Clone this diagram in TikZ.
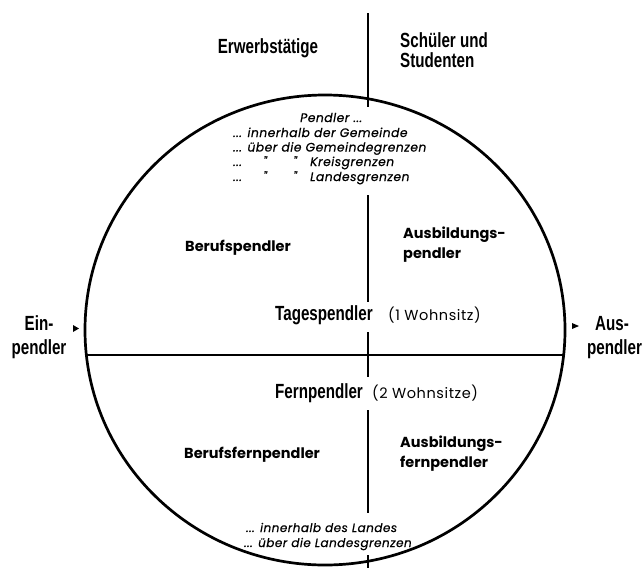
\documentclass[tikz,border=0pt]{standalone}
\usepackage{fontspec}
\setmainfont{Liberation Sans}
\newfontfamily\condf[FakeStretch=0.74]{Liberation Sans}
\newfontfamily\futf{Poppins}
\newfontfamily\futsp[LetterSpace=4,ItalicFeatures={FakeBold=0.5}]{Poppins}
\tikzset{
  cond/.style={font=\condf\bfseries\fontsize{20.5}{22}\selectfont, inner sep=0pt},
  futb/.style={font=\futf\bfseries\fontsize{14.5}{20}\selectfont, inner sep=0pt},
  futr/.style={font=\futsp\fontsize{14.5}{16}\selectfont, inner sep=0pt},
  futi/.style={font=\futsp\itshape\fontsize{12.3}{14}\selectfont, inner sep=0pt},
  futis/.style={font=\futsp\itshape\fontsize{12}{14}\selectfont, inner sep=0pt},
  rim/.style={line width=2.7pt},
  divider/.style={line width=2.5pt},
  tipmark/.style={fill=black, draw=none},
}
\begin{document}
\begin{tikzpicture}[x=1pt,y=-1pt]
\useasboundingbox (0,0) rectangle (642,568);
\fill[white] (0,0) rectangle (642,568);
% circle
\coordinate (C) at (325,330);
\draw[rim] (C) ellipse [x radius=240, y radius=235];
% horizontal divider
\coordinate (hl) at (86.4,355);
\coordinate (hr) at (563.6,355);
\draw[divider] (hl) -- (hr);
% vertical divider segments
\coordinate (v0) at (368,13);
\coordinate (v1) at (368,107);
\coordinate (v2) at (368,195);
\coordinate (v3) at (368,302);
\coordinate (v4) at (368,332);
\coordinate (v5) at (368,377);
\coordinate (v6) at (368,410);
\coordinate (v7) at (368,513);
\coordinate (v8) at (368,555);
\coordinate (v9) at (368,568);
\draw[divider] (v0)--(v1) (v2)--(v3) (v4)--(v5) (v6)--(v7) (v8)--(v9);
% arrow marks
\fill[tipmark] (73,325) -- (79,328.5) -- (73,332) -- cycle;
\fill[tipmark] (572,323) -- (579,326) -- (572,329) -- cycle;
% top labels
\node[cond, anchor=base] (erw) at (268,53) {Erwerbst\"atige};
\node[cond, anchor=base west] (sch1) at (400,47) {Sch\"uler und};
\node[cond, anchor=base west] (sch2) at (400,67) {Studenten};
% top list
\node[futi, anchor=base west] (p0) at (300,122) {Pendler ...};
\node[futi, anchor=base west] (p1) at (233,137) {... innerhalb der Gemeinde};
\node[futi, anchor=base west] (p2) at (233,151.5) {... \"uber die Gemeindegrenzen};
\node[futi, anchor=base west] (p3a) at (233,166) {...};
\node[futi, anchor=base west] (p3b) at (263,166) {"};
\node[futi, anchor=base west] (p3c) at (293,166) {"};
\node[futi, anchor=base west] (p3d) at (310,166) {Kreisgrenzen};
\node[futi, anchor=base west] (p4a) at (233,181) {...};
\node[futi, anchor=base west] (p4b) at (263,181) {"};
\node[futi, anchor=base west] (p4c) at (293,181) {"};
\node[futi, anchor=base west] (p4d) at (310,181) {Landesgrenzen};
% upper half
\node[futb, anchor=base west] (bp) at (185,251) {Berufspendler};
\node[futb, anchor=north west, align=left] (ap) at (403,227) {Ausbildungs-\\pendler};
\node[cond, anchor=base west] (tp) at (275,320) {Tagespendler};
\node[futr, anchor=base west] (tpw) at (388,320) {(1 Wohnsitz)};
% sides
\node[cond, anchor=base] (ein1) at (39,330) {Ein-};
\node[cond, anchor=base] (ein2) at (39,354) {pendler};
\node[cond, anchor=base] (aus1) at (612,330) {Aus-};
\node[cond, anchor=base west] (aus2) at (587,354) {pendler};
% lower half
\node[cond, anchor=base west] (fp) at (275,398) {Fernpendler};
\node[futr, anchor=base west] (fpw) at (372,398) {(2 Wohnsitze)};
\node[futb, anchor=base west] (bfp) at (184,458) {Berufsfernpendler};
\node[futb, anchor=north west, align=left] (af) at (400,436) {Ausbildungs-\\fernpendler};
% bottom list
\node[futis, anchor=base west] (q1) at (246,532) {... innerhalb des Landes};
\node[futis, anchor=base west] (q2) at (244,547) {... \"uber die Landesgrenzen};
\end{tikzpicture}
\end{document}
